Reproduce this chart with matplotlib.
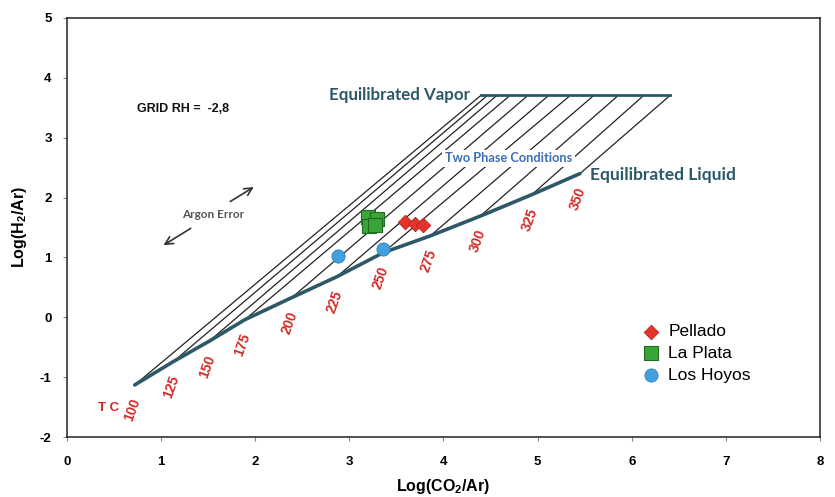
import numpy as np
import matplotlib
matplotlib.use('Agg')
import matplotlib.pyplot as plt

plt.rcParams['font.family'] = ['Liberation Sans', 'DejaVu Sans']
plt.rcParams['mathtext.fontset'] = 'custom'
plt.rcParams['mathtext.bf'] = 'Liberation Sans:bold'
plt.rcParams['mathtext.rm'] = 'Liberation Sans'
plt.rcParams['mathtext.default'] = 'bf'
plt.rcParams['axes.unicode_minus'] = False

# Grid: liquid points for each isotherm, and where each isotherm meets the top line
temps = ['100', '125', '150', '175', '200', '225', '250', '275', '300', '325', '350']
liq_x = [0.72, 1.13, 1.51, 1.89, 2.39, 2.87, 3.36, 3.86, 4.39, 4.94, 5.45]
liq_y = [-1.13, -0.74, -0.40, -0.04, 0.33, 0.68, 1.08, 1.36, 1.69, 2.05, 2.40]
vap_top_x = [4.40, 4.47, 4.57, 4.71, 4.90, 5.12, 5.35, 5.60, 5.86, 6.13, 6.41]
vap_top_y = 3.71

# Samples
pellado_x = [3.59, 3.70, 3.78]
pellado_y = [1.59, 1.56, 1.54]
plata_x = [3.20, 3.21, 3.29, 3.27]
plata_y = [1.67, 1.53, 1.64, 1.55]
hoyos_x = [2.88, 3.36]
hoyos_y = [1.03, 1.14]

teal = '#2c5868'
red_txt = '#d42a26'

fig = plt.figure(figsize=(8.35, 4.97), dpi=100)
ax = fig.add_axes([0.0802, 0.1207, 0.9018, 0.8431])

# isotherms
for i in range(len(temps)):
    ax.plot([liq_x[i], vap_top_x[i]], [liq_y[i], vap_top_y], color='#222222', lw=0.9, zorder=2)
# top (vapor) line and liquid curve
ax.plot([vap_top_x[0], vap_top_x[-1]], [vap_top_y, vap_top_y], color=teal, lw=2.0, zorder=3)
ax.plot(liq_x, liq_y, color=teal, lw=2.6, zorder=3, solid_capstyle='round')

# temperature labels below liquid curve
for t, x, y in zip(temps, liq_x, liq_y):
    ax.annotate(t, (x, y), xytext=(-1.5, -18), textcoords='offset points',
                rotation=70, ha='center', va='center', color=red_txt,
                fontsize=10, fontweight='bold')
ax.text(0.44, -1.51, 'T C', color=red_txt, fontsize=9.5, fontweight='bold',
        ha='center', va='center')

# data
ax.scatter(pellado_x, pellado_y, marker='D', s=55, color='#e3342b', edgecolor='#c0221c',
           linewidth=0.6, zorder=5, label='Pellado')
ax.scatter(plata_x, plata_y, marker='s', s=110, color='#3aa537', edgecolor='#216b22',
           linewidth=0.8, zorder=5, label='La Plata')
ax.scatter(hoyos_x, hoyos_y, marker='o', s=90, color='#44a0dc', edgecolor='#2f7fb8',
           linewidth=0.6, zorder=5, label='Los Hoyos')

# annotations
ax.text(4.28, 3.71, 'Equilibrated Vapor', family='Lato', fontweight='bold', fontsize=12.2,
        color=teal, ha='right', va='center')
ax.text(5.56, 2.37, 'Equilibrated Liquid', family='Lato', fontweight='bold', fontsize=12.5,
        color=teal, ha='left', va='center')
ax.text(4.69, 2.66, 'Two Phase Conditions', family='Lato', fontweight='bold', fontsize=9.2,
        color='#3b6fb6', ha='center', va='center', zorder=4,
        bbox=dict(boxstyle='square,pad=0.2', fc='white', ec='none'))
ax.text(0.74, 3.48, 'GRID RH =  -2,8', fontweight='bold', fontsize=9, color='#111111',
        ha='left', va='center')
ax.text(1.55, 1.72, 'Argon Error', family='Lato', fontweight='bold', fontsize=8.5,
        color='#555555', ha='center', va='center')
ax.annotate('', xy=(1.0, 1.18), xytext=(1.34, 1.51),
            arrowprops=dict(arrowstyle='->', color='#333333', lw=1.2, mutation_scale=14))
ax.annotate('', xy=(2.01, 2.20), xytext=(1.71, 1.91),
            arrowprops=dict(arrowstyle='->', color='#333333', lw=1.2, mutation_scale=14))

ax.set_xlim(0, 8)
ax.set_ylim(-2, 5)
ax.set_xticks(range(0, 9))
ax.set_yticks(range(-2, 6))
ax.tick_params(direction='out', length=3, width=0.8, color='#888888',
               labelsize=9.5, pad=8)
ax.tick_params(axis='x', pad=11)
for lab in ax.get_xticklabels() + ax.get_yticklabels():
    lab.set_fontweight('bold')
for sp in ax.spines.values():
    sp.set_linewidth(1.1)
    sp.set_color('#222222')

ax.set_xlabel(r'Log(CO$_2$/Ar)', fontsize=11.5, fontweight='bold', labelpad=6)
ax.set_ylabel(r'Log(H$_2$/Ar)', fontsize=11.5, fontweight='bold', labelpad=8)

leg = ax.legend(loc='upper left', bbox_to_anchor=(0.757, 0.286), frameon=False,
                fontsize=12.5, handlelength=0.8, handletextpad=0.6,
                labelspacing=0.38, borderaxespad=0)

fig.savefig('out.png', dpi=100, facecolor='white')
